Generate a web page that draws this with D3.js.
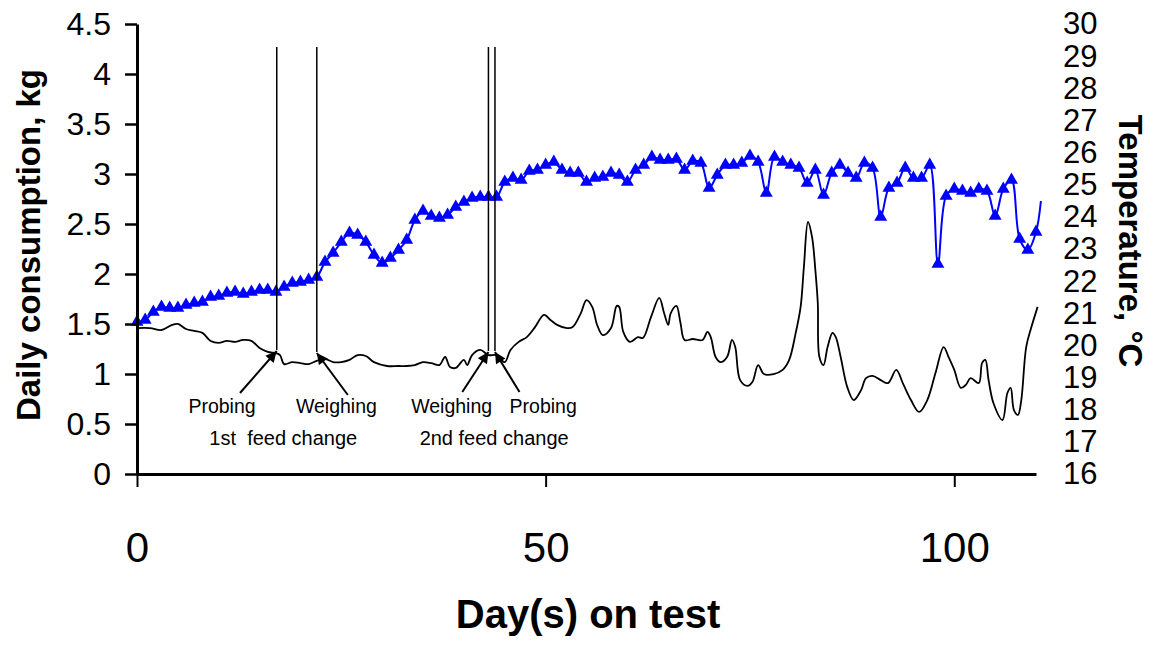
<!DOCTYPE html>
<html>
<head>
<meta charset="utf-8">
<script src="https://cdn.jsdelivr.net/npm/d3@7"></script>
<style>
  body { margin: 0; background: #fff; }
  text { font-family: "Liberation Sans", Arial, sans-serif; }
</style>
</head>
<body>
<svg id="chart" width="1155" height="645"></svg>
<script>
// daily consumption, kg (one value per day, day 0..110) + last point without marker
var consDays = d3.range(0, 111).concat([110.6])
var consumption = [1.52,1.54,1.62,1.67,1.66,1.66,1.69,1.71,1.72,1.77,
  1.78,1.81,1.82,1.80,1.82,1.84,1.84,1.82,1.87,1.91,
  1.92,1.94,1.97,2.12,2.21,2.32,2.41,2.39,2.32,2.19,
  2.11,2.16,2.24,2.34,2.54,2.63,2.58,2.56,2.59,2.67,
  2.72,2.76,2.77,2.77,2.77,2.92,2.96,2.94,3.03,3.04,
  3.09,3.12,3.04,3.01,3.01,2.92,2.96,2.97,3.01,2.99,
  2.92,3.04,3.09,3.17,3.14,3.14,3.15,3.04,3.13,3.11,
  2.86,2.99,3.09,3.09,3.11,3.18,3.12,2.81,3.17,3.12,
  3.09,3.06,2.91,3.04,2.79,3.01,3.09,3.01,2.96,3.11,
  3.06,2.57,2.86,2.91,3.06,2.96,2.96,3.09,2.10,2.78,
  2.85,2.83,2.81,2.85,2.83,2.58,2.85,2.94,2.35,2.24,
  2.42,2.73]

// temperature, °C
var tempDays = [0,1.6,3,4.3,5,6,7,8,9,10,11,12,13,14,15,16,17,17.5,18,19,20,21,22,23,24,25,26,27,28,29,
  30.6,32,33,34,35,36,37,37.7,38.3,39,40,40.4,41,42,43,44,45,45.7,46.7,47.7,48.7,49.8,50.6,51.4,52.6,53.3,
  54.3,55,55.7,56.3,57,58,58.7,59,59.5,60.3,61.3,61.9,62.9,63.9,64.5,65,65.3,66,66.5,67,68,69.2,69.8,70.2,
  70.8,71.4,72.2,72.8,73.2,73.8,74.7,75.3,76,76.7,77.9,79,79.8,80.6,81.2,81.6,82.1,82.6,83,83.3,83.5,84,
  84.5,85.1,85.5,86.1,86.9,87.7,88.6,89.2,90,91,91.9,92.9,93.7,94.7,95.7,96.7,97.7,98.7,99.3,100,100.8,
  101.4,102,103,103.4,103.8,104.2,104.8,105.9,106.5,106.9,107.3,107.8,108.2,108.8,109.4,110.2]
var tempValues = [20.54,20.54,20.48,20.64,20.67,20.51,20.45,20.39,20.14,20.08,20.14,20.11,20.17,20.14,19.92,19.80,19.76,19.70,19.42,19.48,19.45,19.42,19.52,19.58,19.48,19.48,19.55,19.70,19.67,19.48,
  19.36,19.36,19.36,19.39,19.48,19.45,19.39,19.64,19.33,19.30,19.55,19.39,19.70,19.86,19.70,19.70,19.48,19.86,20.11,20.26,20.57,20.95,20.79,20.64,20.54,20.57,
  21.0,21.41,21.2,20.64,20.32,20.54,21.23,21.2,20.42,20.11,20.26,20.23,20.89,21.48,21.0,20.64,21.0,21.23,20.7,20.17,20.2,20.17,20.42,20.26,
  19.64,19.48,19.64,20.17,19.95,18.92,18.74,18.86,19.39,19.11,19.11,19.24,19.55,20.39,21.2,22.44,23.84,23.37,22.35,21.32,19.64,19.39,
  19.95,20.39,20.26,19.64,18.71,18.3,18.61,18.98,19.05,18.92,18.83,19.24,18.83,18.3,17.93,18.3,19.14,19.95,19.64,19.24,18.68,
  18.77,18.98,18.83,19.45,19.55,18.92,18.2,17.68,18.52,18.68,17.99,17.84,18.3,19.95,20.54,21.2]

// tick labels
var xTicks = [0, 50, 100]
var leftTicks = [0, 0.5, 1, 1.5, 2, 2.5, 3, 3.5, 4, 4.5]
var rightTicks = d3.range(16, 31)

// event lines (day, bottom in kg units) and their labels
var eventDays = [17.1, 22.0, 43.0, 43.8]
var eventBottom = [1.24, 1.22, 1.23, 1.23]
var eventTop = 4.27
var arrowFromDay = [12.6, 25.8, 39.8, 46.8]
var arrowFromVal = [0.81, 0.79, 0.82, 0.82]
var eventLabels = ["Probing", "Weighing", "Weighing", "Probing"]
var eventLabelDay = [10.4, 24.4, 38.5, 49.7]
var changeLabels = ["1st  feed change", "2nd feed change"]
var changeLabelDay = [17.9, 43.7]

var svg = d3.select("#chart")

var x = d3.scaleLinear().domain([0, 110]).range([137, 1036])
var yL = d3.scaleLinear().domain([0, 4.5]).range([474, 24])
var yR = d3.scaleLinear().domain([16, 30]).range([474, 24])

// arrow head
svg.append("defs").append("marker")
    .attr("id", "arr")
    .attr("viewBox", "0 0 10 10")
    .attr("refX", 10).attr("refY", 5)
    .attr("markerUnits", "userSpaceOnUse")
    .attr("markerWidth", 12).attr("markerHeight", 11)
    .attr("orient", "auto")
  .append("path")
    .attr("d", "M0,0L10,5L0,10z")
    .attr("fill", "black")

// temperature line
var tempLine = d3.line()
  .x(function(d, i) { return x(tempDays[i]) })
  .y(function(d) { return yR(d) })
  .curve(d3.curveCatmullRom.alpha(0.5))

svg.append("path")
  .attr("d", tempLine(tempValues))
  .attr("fill", "none")
  .attr("stroke", "black")
  .attr("stroke-width", 1.8)

// consumption line + markers
var consLine = d3.line()
  .x(function(d, i) { return x(consDays[i]) })
  .y(function(d) { return yL(d) })
  .curve(d3.curveCatmullRom.alpha(0.5))

svg.append("path")
  .attr("d", consLine(consumption))
  .attr("fill", "none")
  .attr("stroke", "#0000ff")
  .attr("stroke-width", 2)

svg.selectAll(".tri")
  .data(consumption.slice(0, 111))
  .enter()
  .append("path")
  .attr("class", "tri")
  .attr("d", d3.symbol(d3.symbolTriangle, 72))
  .attr("transform", function(d, i) { return "translate(" + x(consDays[i]) + "," + yL(d) + ")" })
  .attr("fill", "#0000ff")

// event lines
svg.selectAll(".ev")
  .data(eventDays)
  .enter()
  .append("line")
  .attr("x1", function(d) { return x(d) })
  .attr("x2", function(d) { return x(d) })
  .attr("y1", yL(eventTop))
  .attr("y2", function(d, i) { return yL(eventBottom[i]) })
  .attr("stroke", "black")
  .attr("stroke-width", 1.5)

svg.selectAll(".arrow")
  .data(eventDays)
  .enter()
  .append("line")
  .attr("x1", function(d, i) { return x(arrowFromDay[i]) })
  .attr("y1", function(d, i) { return yL(arrowFromVal[i]) })
  .attr("x2", function(d) { return x(d) })
  .attr("y2", function(d, i) { return yL(eventBottom[i]) + 1 })
  .attr("stroke", "black")
  .attr("stroke-width", 2)
  .attr("marker-end", "url(#arr)")

svg.selectAll(".evlab")
  .data(eventLabels)
  .enter()
  .append("text")
  .attr("x", function(d, i) { return x(eventLabelDay[i]) })
  .attr("y", 413)
  .attr("text-anchor", "middle")
  .style("font-size", "19.5px")
  .text(function(d) { return d })

svg.selectAll(".chlab")
  .data(changeLabels)
  .enter()
  .append("text")
  .attr("x", function(d, i) { return x(changeLabelDay[i]) })
  .attr("y", 445)
  .attr("text-anchor", "middle")
  .style("font-size", "20px")
  .style("white-space", "pre")
  .text(function(d) { return d })

// axes
var xAxis = svg.append("g")
  .attr("transform", "translate(0,474)")
  .call(d3.axisBottom(x).tickValues(xTicks).tickSize(13).tickSizeOuter(0))
xAxis.select(".domain").attr("stroke-width", 3)
xAxis.selectAll(".tick line").attr("stroke-width", 2)
xAxis.selectAll(".tick text")
  .attr("y", 88).attr("dy", 0)
  .style("font-size", "42px")
  .attr("fill", "black")

var lAxis = svg.append("g")
  .attr("transform", "translate(137,0)")
  .call(d3.axisLeft(yL).tickValues(leftTicks).tickSize(12).tickSizeOuter(0).tickPadding(14)
    .tickFormat(function(d) { return String(d) }))
lAxis.select(".domain").attr("stroke-width", 3)
lAxis.selectAll(".tick line").attr("stroke-width", 2.5)
lAxis.selectAll(".tick text").style("font-size", "32px").attr("fill", "black")

var rAxis = svg.append("g")
  .attr("transform", "translate(1036,0)")
  .call(d3.axisRight(yR).tickValues(rightTicks).tickSize(0).tickPadding(27))
rAxis.select(".domain").remove()
rAxis.selectAll(".tick text").style("font-size", "31px").attr("fill", "black")

// axis titles
svg.append("text")
  .attr("transform", "translate(40,245) rotate(-90)")
  .attr("text-anchor", "middle")
  .style("font-size", "33px")
  .style("font-weight", "bold")
  .text("Daily consumption, kg")

svg.append("text")
  .attr("transform", "translate(1119,241) rotate(90)")
  .attr("text-anchor", "middle")
  .style("font-size", "33px")
  .style("font-weight", "bold")
  .text("Temperature, °C")

svg.append("text")
  .attr("x", 588)
  .attr("y", 628)
  .attr("text-anchor", "middle")
  .style("font-size", "40px")
  .style("font-weight", "bold")
  .text("Day(s) on test")
</script>
</body>
</html>
